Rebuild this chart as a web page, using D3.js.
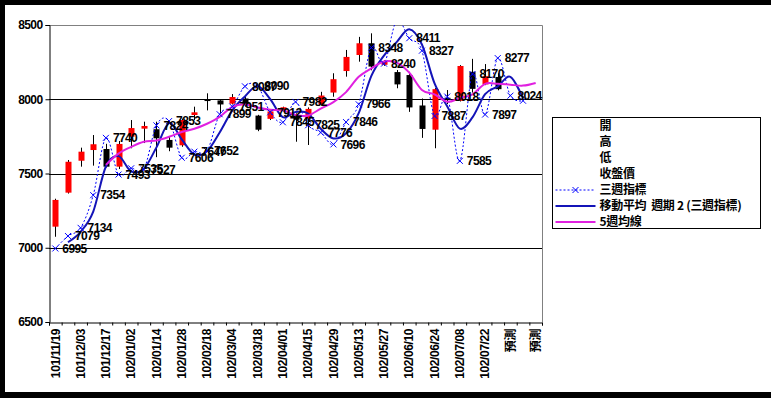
<!DOCTYPE html>
<html>
<head>
<meta charset="utf-8">
<script src="https://cdn.jsdelivr.net/npm/d3@7"></script>
<style>
body { margin: 0; background: #000; }
svg text { font-family: "Liberation Sans", "Noto Sans CJK TC", sans-serif; }
</style>
</head>
<body>
<div id="chart"></div>
<script>

var W = 771;
var H = 398;

var categories = ["101/11/19","101/11/26","101/12/03","101/12/10","101/12/17","101/12/24","102/01/02","102/01/07",
	"102/01/14","102/01/21","102/01/28","102/02/04","102/02/18","102/02/25","102/03/04","102/03/11","102/03/18",
	"102/03/25","102/04/01","102/04/08","102/04/15","102/04/22","102/04/29","102/05/06","102/05/13","102/05/20",
	"102/05/27","102/06/03","102/06/10","102/06/17","102/06/24","102/07/01","102/07/08","102/07/15","102/07/22",
	"102/07/29","預測","預測","預測"];

// weekly candles (開 高 低 收盤價)
var open  = [7142,7371,7586,7658,7665,7546,7748,7802,7798,7726,7690,7894,7998,7992,7970,8005,7890,7868,7925,7885,
	7870,7965,8045,8190,8298,8377,8232,8183,8163,7958,7795,8010,7990,8185,8100,8150];
var high  = [7330,7591,7674,7759,7700,7719,7860,7849,7849,7750,7870,7950,8040,8000,8035,8025,7895,7925,7950,7905,
	7945,8050,8175,8332,8420,8444,8262,8197,8185,8005,8075,8062,8230,8272,8237,8175];
var low   = [7074,7365,7546,7553,7540,7530,7670,7705,7610,7650,7680,7860,7925,7905,7965,7950,7785,7860,7918,7714,
	7692,7960,8017,8152,8253,8195,8225,8074,7915,7740,7670,7968,7985,8045,8095,8060];
var close = [7322,7579,7647,7697,7546,7699,7806,7820,7737,7674,7860,7912,7993,7965,8015,7960,7795,7918,7946,7862,
	7935,8025,8135,8285,8377,8220,8252,8100,7945,7800,8068,8000,8224,8070,8155,8068];

// 三週指標
var sanZhou = [6995,7079,7134,7354,7740,7493,7535,7527,7824,7853,7606,7647,7652,7899,7951,8087,8090,7912,7845,7982,
	7825,7776,7696,7846,7966,8348,8240,8530,8411,8327,7887,8018,7585,8170,7897,8277,8024,7990];
var labelCount = 37;

// 移動平均 週期 2 (三週指標)
var ma2 = [null,7037,7107,7244,7547,7617,7514,7531,7676,7839,7730,7627,7650,7776,7925,8019,8089,8001,7879,7914,
	7904,7801,7736,7771,7906,8157,8294,8385,8471,8369,8107,7953,7802,7878,8034,8087,8151,8007];

// 5週均線
var ma5 = [null,null,null,null,7558,7634,7679,7714,7722,7747,7779,7801,7835,7881,7949,7967,7944,7929,7925,7894,
	7891,7937,7981,8048,8151,8208,8254,8247,8179,8063,8033,7983,8008,8033,8104,8104,8098,8092,8110];

var yTicks = [6500,7000,7500,8000,8500];
var gridTicks = [7000,7500,8000];
var legendItems = ["開","高","低","收盤價","三週指標","移動平均  週期 2 (三週指標)","5週均線"];

var plotL = 49, plotR = 542, plotT = 25, plotB = 322;

var svg = d3.select("#chart")
	.append("svg")
	.attr("width", W)
	.attr("height", H);

svg.append("rect")
	.attr("width", W)
	.attr("height", H)
	.attr("fill", "#000");

svg.append("rect")
	.attr("x", 5)
	.attr("y", 5)
	.attr("width", W - 5)
	.attr("height", 387)
	.attr("fill", "#fff");

var x = d3.scaleBand().domain(d3.range(categories.length)).range([plotL, plotR]);
var bw = x.bandwidth();
var cx = function(i) { return x(i) + bw / 2; };
var y = d3.scaleLinear().domain([6500, 8500]).range([plotB, plotT]);

svg.append("defs").append("clipPath")
	.attr("id", "plotclip")
	.append("rect")
	.attr("x", plotL)
	.attr("y", plotT)
	.attr("width", plotR - plotL)
	.attr("height", plotB - plotT);

// plot border (top, right)
svg.append("path")
	.attr("d", "M" + plotL + "," + (plotT + 0.5) + "H" + (plotR + 0.5) + "V" + plotB)
	.attr("fill", "none")
	.attr("stroke", "#808080");

svg.selectAll(".grid")
	.data(gridTicks)
	.enter().append("line")
	.attr("class", "grid")
	.attr("x1", plotL)
	.attr("x2", plotR)
	.attr("y1", function(d) { return Math.round(y(d)) + 0.5; })
	.attr("y2", function(d) { return Math.round(y(d)) + 0.5; })
	.attr("stroke", "#000");

var yAxis = d3.axisLeft(y).tickValues(yTicks).tickSize(4).tickPadding(3).tickFormat(d3.format("d"));
svg.append("g")
	.attr("transform", "translate(" + (plotL + 0.5) + ",0)")
	.call(yAxis)
	.call(function(g) {
		g.select(".domain").attr("stroke", "#000");
		g.selectAll("text")
			.attr("fill", "#000")
			.style("font-size", "12px")
			.style("font-weight", "bold")
			.style("letter-spacing", "-0.6px");
	});

// category boundary ticks
var xb = d3.scaleLinear().domain([0, categories.length]).range([plotL, plotR]);
svg.append("g")
	.attr("transform", "translate(0," + (plotB + 0.5) + ")")
	.call(d3.axisBottom(xb).tickValues(d3.range(categories.length + 1)).tickSize(3).tickFormat(""))
	.call(function(g) { g.select(".domain").attr("stroke", "#000"); });

var xAxis = d3.axisBottom(x)
	.tickValues(d3.range(0, categories.length, 2))
	.tickSize(0)
	.tickFormat(function(i) { return categories[i]; });
svg.append("g")
	.attr("transform", "translate(0," + plotB + ")")
	.call(xAxis)
	.call(function(g) {
		g.select(".domain").remove();
		g.selectAll("text")
			.attr("fill", "#000")
			.attr("transform", "translate(0,7) rotate(-90)")
			.attr("x", 0)
			.attr("y", 0)
			.attr("dy", "0.35em")
			.attr("text-anchor", "end")
			.style("font-size", "12px")
			.style("font-weight", "bold")
			.style("letter-spacing", "-0.4px");
	});

// candles
var candles = svg.append("g").selectAll("g")
	.data(d3.range(open.length))
	.enter().append("g");

candles.append("line")
	.attr("x1", function(i) { return Math.round(cx(i)) + 0.5; })
	.attr("x2", function(i) { return Math.round(cx(i)) + 0.5; })
	.attr("y1", function(i) { return y(high[i]); })
	.attr("y2", function(i) { return y(low[i]); })
	.attr("stroke", "#000");

candles.append("rect")
	.attr("x", function(i) { return Math.round(cx(i)) - 2.5; })
	.attr("width", 6)
	.attr("y", function(i) { return y(Math.max(open[i], close[i])); })
	.attr("height", function(i) { return Math.max(1.5, Math.abs(y(open[i]) - y(close[i]))); })
	.attr("fill", function(i) { return close[i] >= open[i] ? "#ff0000" : "#000"; });

var plot = svg.append("g").attr("clip-path", "url(#plotclip)");

var smooth = d3.line()
	.defined(function(d) { return d != null; })
	.x(function(d, i) { return cx(i); })
	.y(function(d) { return y(d); })
	.curve(d3.curveCardinal.tension(0));

plot.append("path")
	.attr("d", smooth(sanZhou))
	.attr("fill", "none")
	.attr("stroke", "#0000ff")
	.attr("stroke-width", 1)
	.attr("stroke-dasharray", "2,2");

plot.append("path")
	.attr("d", smooth(ma2))
	.attr("fill", "none")
	.attr("stroke", "#1414b8")
	.attr("stroke-width", 2);

plot.append("path")
	.attr("d", smooth(ma5))
	.attr("fill", "none")
	.attr("stroke", "#e020e0")
	.attr("stroke-width", 2);

plot.selectAll(".mark")
	.data(sanZhou)
	.enter().append("path")
	.attr("class", "mark")
	.attr("transform", function(d, i) { return "translate(" + cx(i) + "," + y(d) + ")"; })
	.attr("d", "M-3,-3L3,3M-3,3L3,-3")
	.attr("stroke", "#0000ff")
	.attr("stroke-width", 1);

svg.selectAll(".lbl")
	.data(sanZhou.slice(0, labelCount).map(function(d, i) { return {v: d, i: i}; })
		.filter(function(d) { return d.v <= 8500; }))
	.enter().append("text")
	.attr("class", "lbl")
	.attr("x", function(d) { return cx(d.i) + 7; })
	.attr("y", function(d) { return y(d.v); })
	.attr("dy", "0.35em")
	.style("font-size", "12px")
	.style("font-weight", "bold")
	.style("letter-spacing", "-0.6px")
	.text(function(d) { return d.v; });

// legend
var lg = svg.append("g").attr("transform", "translate(552.5,117.5)");
lg.append("rect")
	.attr("width", 208)
	.attr("height", 111)
	.attr("fill", "#fff")
	.attr("stroke", "#000");

lg.selectAll("text")
	.data(legendItems)
	.enter().append("text")
	.attr("x", 47)
	.attr("y", function(d, i) { return 8.5 + i * 16; })
	.attr("dy", "0.35em")
	.style("font-family", "'Noto Sans CJK TC', sans-serif")
	.style("font-size", "12px")
	.style("font-weight", "bold")
	.style("letter-spacing", "-0.3px")
	.attr("xml:space", "preserve")
	.text(function(d) { return d; });

lg.append("line")
	.attr("x1", 3).attr("x2", 43)
	.attr("y1", 72.5).attr("y2", 72.5)
	.attr("stroke", "#0000ff")
	.attr("stroke-dasharray", "2,2");
lg.append("path")
	.attr("d", "M20,69.5L26,75.5M20,75.5L26,69.5")
	.attr("stroke", "#0000ff");
lg.append("line")
	.attr("x1", 3).attr("x2", 43)
	.attr("y1", 88.5).attr("y2", 88.5)
	.attr("stroke", "#1414b8")
	.attr("stroke-width", 2);
lg.append("line")
	.attr("x1", 3).attr("x2", 43)
	.attr("y1", 104.5).attr("y2", 104.5)
	.attr("stroke", "#e020e0")
	.attr("stroke-width", 2);

</script>
</body>
</html>
